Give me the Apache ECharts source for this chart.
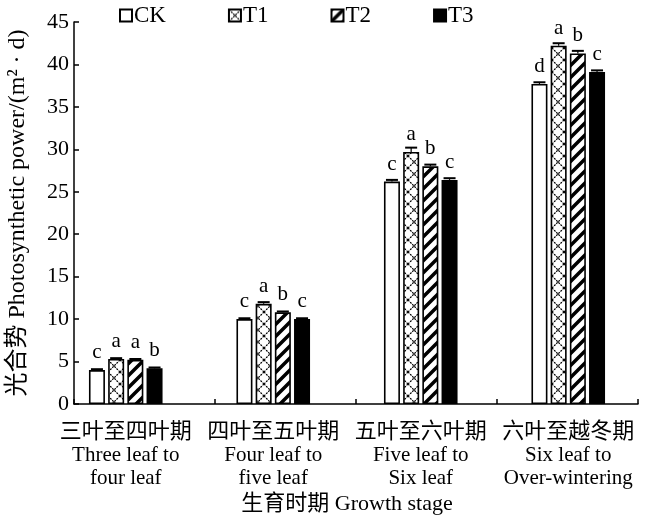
<!DOCTYPE html>
<html><head><meta charset="utf-8">
<script src="https://cdn.jsdelivr.net/npm/echarts@6/dist/echarts.min.js"></script>
<style>html,body{margin:0;padding:0;background:#fff}#c{width:646px;height:515px}</style>
</head><body><div id="c"></div>
<script>
// ---- data ----
const stagesCn = ['三叶至四叶期', '四叶至五叶期', '五叶至六叶期', '六叶至越冬期'];
const stagesEn = ['Three leaf to\nfour leaf', 'Four leaf to\nfive leaf', 'Five leaf to\nSix leaf', 'Six leaf to\nOver-wintering'];
const seriesNames = ['CK', 'T1', 'T2', 'T3'];
const valCK = [4.0, 10.0, 26.2, 37.7];
const valT1 = [5.3, 11.8, 29.7, 42.2];
const valT2 = [5.2, 10.8, 28.0, 41.3];
const valT3 = [4.2, 10.0, 26.4, 39.1];
const errCK = [0.1, 0.1, 0.2, 0.2];
const errT1 = [0.1, 0.2, 0.5, 0.3];
const errT2 = [0.1, 0.1, 0.2, 0.3];
const errT3 = [0.1, 0.1, 0.2, 0.2];
const sigCK = ['c', 'c', 'c', 'd'];
const sigT1 = ['a', 'a', 'a', 'a'];
const sigT2 = ['a', 'b', 'b', 'b'];
const sigT3 = ['b', 'c', 'c', 'c'];
const yMin = 0, yMax = 45, yStep = 5;
const yName = '光合势 Photosynthetic power/(m² · d)';
const xName = '生育时期 Growth stage';

// ---- styles ----
const FONT = '"Liberation Serif", "Times New Roman", "Noto Sans CJK SC", serif';
const BAR_W = 16, GAP = 0.2;

function makePattern(kind) {
  const c = document.createElement('canvas');
  const s = 12;
  c.width = s; c.height = s;
  const g = c.getContext('2d');
  g.fillStyle = '#fff'; g.fillRect(0, 0, s, s);
  g.strokeStyle = '#000';
  if (kind === 'cross') {
    g.lineWidth = 1.2;
    g.setLineDash([2, 1]);
    g.beginPath();
    g.moveTo(0, 0); g.lineTo(s, s);
    g.moveTo(s, 0); g.lineTo(0, s);
    g.stroke();
  } else {
    g.lineWidth = 3.5;
    g.beginPath();
    g.moveTo(-2, 2); g.lineTo(2, -2);
    g.moveTo(0, s); g.lineTo(s, 0);
    g.moveTo(s - 2, s + 2); g.lineTo(s + 2, s - 2);
    g.stroke();
  }
  return { image: c, repeat: 'repeat' };
}

const fills = ['#ffffff', makePattern('cross'), makePattern('diag'), '#000000'];
const vals = [valCK, valT1, valT2, valT3];
const errs = [errCK, errT1, errT2, errT3];
const sigs = [sigCK, sigT1, sigT2, sigT3];

const series = seriesNames.map((name, s) => ({
  name, type: 'bar', xAxisIndex: 0, yAxisIndex: 0,
  barWidth: BAR_W, barGap: (GAP * 100) + '%',
  itemStyle: { color: fills[s], borderColor: '#000', borderWidth: 1.6 },
  label: {
    show: true, position: 'top', distance: 7,
    formatter: p => sigs[s][p.dataIndex],
    fontFamily: FONT, fontSize: 21, color: '#000'
  },
  data: vals[s]
}));

const errData = [];
vals.forEach((arr, s) => arr.forEach((v, i) => errData.push([i, v, errs[s][i], s])));

series.push({
  type: 'custom', xAxisIndex: 0, yAxisIndex: 0, z: 5, silent: true,
  renderItem(params, api) {
    const cat = api.value(0), v = api.value(1), e = api.value(2), s = api.value(3);
    const off = (s - 1.5) * BAR_W * (1 + GAP);
    const top = api.coord([cat, v + e]);
    const base = api.coord([cat, v]);
    const x = top[0] + off;
    return { type: 'group', children: [
      { type: 'line', shape: { x1: x, y1: top[1], x2: x, y2: base[1] }, style: { stroke: '#000', lineWidth: 1.2 } },
      { type: 'line', shape: { x1: x - 6, y1: top[1], x2: x + 6, y2: top[1] }, style: { stroke: '#000', lineWidth: 2 } }
    ]};
  },
  data: errData
});

const chart = echarts.init(document.getElementById('c'), null, { renderer: 'canvas' });
chart.setOption({
  animation: false,
  backgroundColor: '#fff',
  textStyle: { fontFamily: FONT, color: '#000' },
  legend: {
    top: -1, left: 114, icon: 'rect', itemWidth: 12, itemHeight: 12, itemGap: 62,
    data: seriesNames,
    textStyle: { fontFamily: FONT, fontSize: 23, color: '#000', padding: [0, 0, 0, -3] }
  },
  grid: [
    { left: 52, right: 4, top: 22, bottom: 111, outerBoundsMode: 'none', containLabel: false },
    { left: 74, right: 8, top: 22, bottom: 111, outerBoundsMode: 'none', containLabel: false }
  ],
  xAxis: [
    {
      type: 'category', gridIndex: 0, data: stagesCn.map((c, i) => c + '\n' + stagesEn[i]),
      axisLine: { show: false }, axisTick: { show: false },
      axisLabel: {
        interval: 0, margin: 17, color: '#000', fontFamily: FONT, fontSize: 21, lineHeight: 23,
        formatter: (v, i) => '{cn|' + stagesCn[i] + '}\n' + stagesEn[i],
        rich: { cn: { fontFamily: FONT, fontSize: 22, lineHeight: 23, color: '#000' } }
      },
      name: xName, nameLocation: 'middle', nameGap: 89, nameMoveOverlap: false,
      nameTextStyle: { fontFamily: FONT, fontSize: 22, color: '#000' }
    },
    {
      type: 'category', gridIndex: 1, data: stagesCn,
      axisLine: { show: true, lineStyle: { color: '#000', width: 1.5 } },
      axisTick: { show: true, inside: true, length: 5, lineStyle: { color: '#000', width: 1.5 } },
      axisLabel: { show: false }
    }
  ],
  yAxis: [
    { type: 'value', gridIndex: 0, min: yMin, max: yMax, interval: yStep, show: false },
    {
      type: 'value', gridIndex: 1, min: yMin, max: yMax, interval: yStep,
      axisLine: { show: true, lineStyle: { color: '#000', width: 1.5 } },
      axisTick: { show: true, inside: true, length: 5, lineStyle: { color: '#000', width: 1.5 } },
      splitLine: { show: false },
      axisLabel: { margin: 5, color: '#000', fontFamily: FONT, fontSize: 22 },
      name: yName, nameLocation: 'middle', nameGap: 44, nameMoveOverlap: false,
      nameTextStyle: { fontFamily: FONT, fontSize: 24, color: '#000' }
    }
  ],
  series
});
</script></body></html>
